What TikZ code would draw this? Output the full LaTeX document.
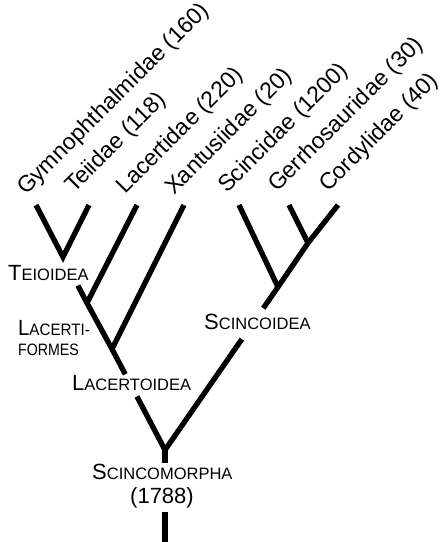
\documentclass[tikz,border=0pt]{standalone}
\usepackage{fontspec}
\usepackage{graphicx}
\setmainfont{Liberation Sans}
\usetikzlibrary{calc}
\newcommand{\capsc}[2]{{\fontsize{22}{26}\selectfont #1}{\fontsize{16.5}{20}\selectfont #2}}
\newcommand{\smallsc}[1]{{\fontsize{16.5}{20}\selectfont #1}}
\begin{document}
\begin{tikzpicture}[x=1pt,y=-1pt,
  branch/.style={line width=5.3pt, line join=miter},
  taxon/.style={rotate=45, anchor=base west, inner sep=0pt, font=\fontsize{23}{27}\selectfont},
  clade/.style={anchor=base west, inner sep=0pt}]
\useasboundingbox (0,0) rectangle (445,542);
% tips
\coordinate (gT) at (36,205);
\coordinate (tT) at (89,205);
\coordinate (lT) at (137,205);
\coordinate (xT) at (184,205);
\coordinate (sT) at (239,205);
\coordinate (grT) at (289,205);
\coordinate (cT) at (338,205);
% internal nodes
\coordinate (teio) at (63,257);
\coordinate (lf) at (87,303);
\coordinate (lo) at (112,349);
\coordinate (sm) at (165,450);
\coordinate (smb) at (165,463);
\coordinate (gc) at (308,243);
\coordinate (sc) at (278,287);
\coordinate (rootT) at (165,512);
\coordinate (rootB) at (165,542);
% gap points
\coordinate (teioA) at ($(teio)!0.62!(lf)$);
\coordinate (loA) at ($(lo)!0.25!(sm)$);
\coordinate (loB) at ($(lo)!0.47!(sm)$);
\coordinate (scA) at ($(sc)!0.13!(sm)$);
\coordinate (scB) at ($(sc)!0.32!(sm)$);
% branches
\draw[branch] (gT) -- (teio) -- (tT);
\draw[branch] (teioA) -- (lf) -- (lo) -- (loA);
\draw[branch] (lT) -- (lf);
\draw[branch] (xT) -- (lo);
\draw[branch] (loB) -- (sm) -- (scB);
\draw[branch] (sm) -- (smb);
\draw[branch] (cT) -- (gc) -- (sc) -- (scA);
\draw[branch] (grT) -- (gc);
\draw[branch] (sT) -- (sc);
\draw[branch] (rootT) -- (rootB);
% taxon labels
\node[taxon] (gL) at (26,196) {Gymnophthalmidae (160)};
\node[taxon] (tL) at (74,194) {Teiidae (118)};
\node[taxon] (lL) at (125,195) {Lacertidae (220)};
\node[taxon] (xL) at (174,196) {Xantusiidae (20)};
\node[taxon] (sL) at (227,194) {Scincidae (1200)};
\node[taxon] (grL) at (277,193) {Gerrhosauridae (30)};
\node[taxon] (cL) at (328,193) {Cordylidae (40)};
% clade labels
\node[clade] (teioL) at (8,280) {\capsc{T}{EIOIDEA}};
\node[clade] (lfL1) at (18,335) {\scalebox{0.92}[1]{\capsc{L}{ACERTI-}}};
\node[clade] (lfL2) at (18,355) {\scalebox{0.86}[1]{\smallsc{FORMES}}};
\node[clade] (loL) at (72,390) {\capsc{L}{ACERTOIDEA}};
\node[clade] (scL) at (204,329) {\capsc{S}{CINCOIDEA}};
\node[clade] (smL) at (92,479) {\capsc{S}{CINCOMORPHA}};
\node[anchor=base, inner sep=0pt, font=\fontsize{22}{26}\selectfont] (smN) at (162,503) {(1788)};
\end{tikzpicture}
\end{document}
